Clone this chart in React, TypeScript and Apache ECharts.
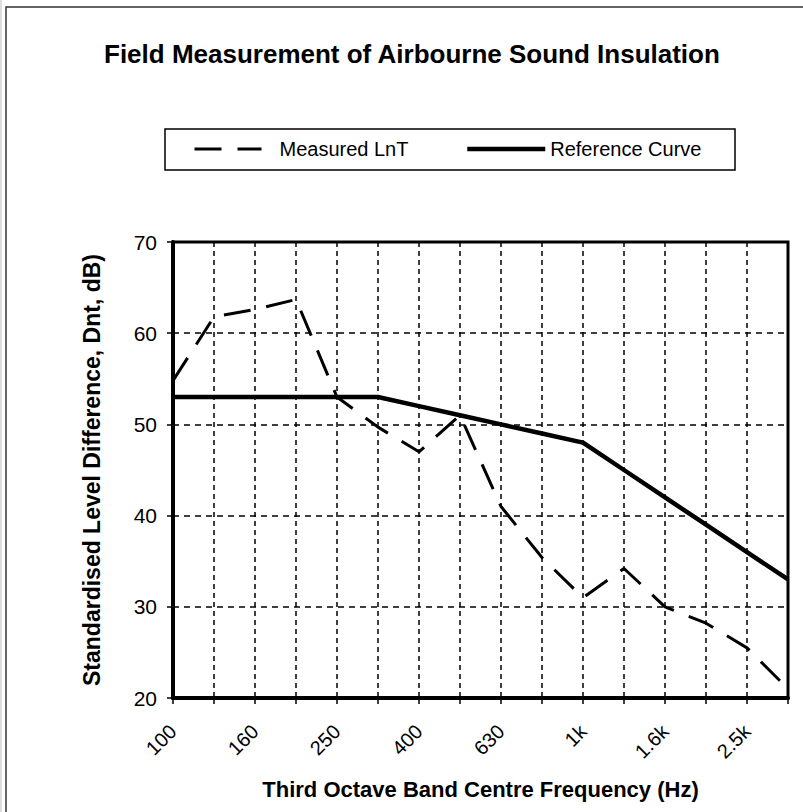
import React, { useEffect, useRef } from "react";
import * as echarts from "echarts";

const categories = ["100", "125", "160", "200", "250", "315", "400", "500", "630", "800", "1k", "1.25k", "1.6k", "2k", "2.5k", "3.15k"];
const measuredLnT = [54.8, 61.8, 62.6, 63.7, 53.0, 49.7, 47.0, 51.0, 41.0, 35.4, 31.0, 34.2, 30.0, 28.2, 25.5, 21.0];
const referenceCurve = [53, 53, 53, 53, 53, 53, 52, 51, 50, 49, 48, 45, 42, 39, 36, 33];
const yMin = 20;
const yMax = 70;
const yStep = 10;

const FONT = '"Liberation Sans", Arial, Helvetica, sans-serif';

export default function App() {
  const ref = useRef<HTMLDivElement>(null);

  useEffect(() => {
    document.body.style.margin = "0";
    if (!ref.current) return;
    const chart = echarts.init(ref.current, null, { renderer: "svg" });
    chart.setOption({
      animation: false,
      backgroundColor: "#ffffff",
      textStyle: { fontFamily: FONT, color: "#000" },
      title: {
        text: "Field Measurement of Airbourne Sound Insulation",
        left: 104,
        top: 41,
        padding: 0,
        textStyle: { fontSize: 26, fontWeight: "bold", color: "#000", fontFamily: FONT },
      },
      legend: [
        {
          data: ["Measured LnT"],
          left: 193,
          top: 139,
          padding: 0,
          itemWidth: 67,
          itemHeight: 14,
          selectedMode: false,
          itemStyle: { opacity: 0 },
          lineStyle: { width: 3, type: [27, 16], color: "#000" },
          textStyle: { fontSize: 20, color: "#000", fontFamily: FONT, padding: [0, 0, 0, 13] },
        },
        {
          data: ["Reference Curve"],
          left: 465,
          top: 139,
          padding: 0,
          itemWidth: 78,
          itemHeight: 14,
          selectedMode: false,
          itemStyle: { opacity: 0 },
          lineStyle: { width: 4.5, type: "solid", color: "#000" },
          textStyle: { fontSize: 20, color: "#000", fontFamily: FONT },
        },
      ],
      grid: {
        left: 173,
        right: 15,
        top: 242,
        bottom: 114,
        show: true,
        borderColor: "#000",
        borderWidth: 3,
        backgroundColor: "transparent",
      },
      xAxis: {
        type: "category",
        data: categories,
        boundaryGap: false,
        name: "Third Octave Band Centre Frequency (Hz)",
        nameLocation: "middle",
        nameGap: 80,
        nameTextStyle: { fontSize: 22, fontWeight: "bold", color: "#000", fontFamily: FONT },
        axisLine: { show: true, lineStyle: { color: "#000", width: 4 } },
        axisTick: { show: true, interval: 0, length: 6, lineStyle: { color: "#000", width: 1.5 } },
        axisLabel: { interval: 1, rotate: 45, margin: 30, fontSize: 20, color: "#000", fontFamily: FONT },
        splitLine: { show: true, interval: 0, lineStyle: { color: "#000", width: 1.5, type: [5, 4] } },
      },
      yAxis: {
        type: "value",
        min: yMin,
        max: yMax,
        interval: yStep,
        name: "Standardised Level Difference, Dnt, dB)",
        nameLocation: "middle",
        nameGap: 70,
        nameTextStyle: { fontSize: 23, fontWeight: "bold", color: "#000", fontFamily: FONT },
        axisLine: { show: true, lineStyle: { color: "#000", width: 4 } },
        axisTick: { show: true, length: 6, lineStyle: { color: "#000", width: 1.5 } },
        axisLabel: { margin: 16, fontSize: 21, color: "#000", fontFamily: FONT },
        splitLine: { show: true, lineStyle: { color: "#000", width: 1.5, type: [6, 5] } },
      },
      series: [
        {
          type: "line",
          name: "Measured LnT",
          data: measuredLnT,
          symbol: "none",
          itemStyle: { color: "#000" },
          lineStyle: { color: "#000", width: 3, type: [27, 16] },
          z: 5,
        },
        {
          type: "line",
          name: "Reference Curve",
          data: referenceCurve,
          symbol: "none",
          itemStyle: { color: "#000" },
          lineStyle: { color: "#000", width: 4.5 },
          z: 6,
        },
      ],
      graphic: [
        {
          type: "rect",
          shape: { x: 165, y: 129, width: 570, height: 41 },
          style: { fill: "none", stroke: "#000", lineWidth: 1.5 },
          silent: true,
        },
        {
          type: "rect",
          shape: { x: 6, y: 7, width: 1000, height: 1000 },
          style: { fill: "none", stroke: "#333", lineWidth: 1.5 },
          silent: true,
        },
        {
          type: "line",
          shape: { x1: 1, y1: 0, x2: 1, y2: 812 },
          style: { stroke: "#bbb", lineWidth: 1 },
          silent: true,
        },
      ],
    });
    return () => chart.dispose();
  }, []);

  return <div ref={ref} style={{ width: 803, height: 812 }} />;
}
